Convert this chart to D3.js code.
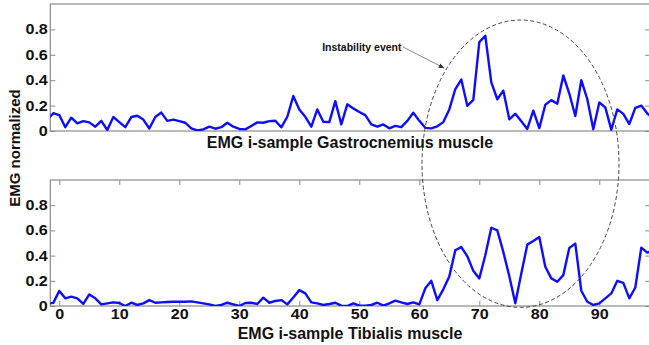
<!DOCTYPE html>
<html>
<head>
<meta charset="utf-8">
<script src="https://cdn.jsdelivr.net/npm/d3@7"></script>
<style>
  html, body { margin: 0; padding: 0; background: #fff; }
  svg { display: block; }
  text { font-family: "Liberation Sans", Arial, sans-serif; font-weight: bold; fill: #111; }
</style>
</head>
<body>
<svg id="chart" width="649" height="345"></svg>
<script>
// ---- data ----
const sampleStart = -2; // first sample index (partly clipped at the left edge)
const gastrocnemius = [
  0.09, 0.14, 0.125, 0.03, 0.105, 0.06, 0.078, 0.068, 0.034, 0.08,
  0.008, 0.11, 0.07, 0.03, 0.11, 0.12, 0.09, 0.02, 0.11, 0.145,
  0.08, 0.09, 0.078, 0.065, 0.02, 0.005, 0.013, 0.034, 0.018, 0.03,
  0.065, 0.034, 0.016, 0.013, 0.04, 0.068, 0.065, 0.078, 0.081, 0.029,
  0.112, 0.275, 0.17, 0.112, 0.034, 0.17, 0.073, 0.07, 0.235, 0.052,
  0.21, 0.178, 0.15, 0.125, 0.052, 0.034, 0.052, 0.021, 0.04, 0.03,
  0.08, 0.144, 0.08, 0.025, 0.021, 0.037, 0.07, 0.17, 0.33, 0.405,
  0.198, 0.245, 0.70, 0.75, 0.383, 0.25, 0.318, 0.092, 0.136, 0.077,
  0.016, 0.16, 0.023, 0.207, 0.243, 0.215, 0.437, 0.295, 0.118, 0.40,
  0.25, 0.013, 0.224, 0.186, 0.01, 0.17, 0.135, 0.055, 0.182, 0.20,
  0.138, 0.10
];
const tibialis = [
  0.02, 0.025, 0.12, 0.061, 0.074, 0.061, 0.016, 0.092, 0.061, 0.013,
  0.021, 0.029, 0.024, 0.0, 0.026, 0.008, 0.021, 0.047, 0.026, 0.029,
  0.032, 0.034, 0.034, 0.034, 0.037, 0.029, 0.021, 0.013, 0.0, 0.008,
  0.026, 0.013, 0.0, 0.024, 0.026, 0.016, 0.066, 0.026, 0.04, 0.047,
  0.013, 0.068, 0.126, 0.10, 0.029, 0.021, 0.008, 0.016, 0.026, 0.003,
  0.0, 0.021, 0.003, 0.003, 0.008, 0.026, 0.003, 0.021, 0.042, 0.029,
  0.016, 0.029, 0.013, 0.14, 0.20, 0.047, 0.132, 0.235, 0.442, 0.468,
  0.395, 0.279, 0.219, 0.403, 0.621, 0.60, 0.429, 0.237, 0.021, 0.258,
  0.487, 0.516, 0.547, 0.311, 0.219, 0.192, 0.245, 0.461, 0.495, 0.121,
  0.034, 0.008, 0.021, 0.061, 0.10, 0.20, 0.184, 0.061, 0.147, 0.463,
  0.424, 0.44
];
const xTicks = [0, 10, 20, 30, 40, 50, 60, 70, 80, 90];
const yTicks = [0, 0.2, 0.4, 0.6, 0.8];
const yTickLabels = ["0", "0.2", "0.4", "0.6", "0.8"];
const xLabelTop = "EMG i-sample Gastrocnemius muscle";
const xLabelBottom = "EMG i-sample Tibialis muscle";
const yLabel = "EMG normalized";
const annotationText = "Instability event";

// ---- layout ----
const svg = d3.select("#chart");
const left = 50.3, right = 650.3;
const x = d3.scaleLinear().domain([-1.5, 98.5]).range([left, right]);

const panels = [
  { id: "top", data: gastrocnemius, top: 4, bottom: 131, xticks: false, label: xLabelTop, labelY: 148 },
  { id: "bot", data: tibialis, top: 180, bottom: 306, xticks: true, label: xLabelBottom, labelY: 339 }
];

const axisColor = "#8a8a8a";
const tickLen = 5;

function styleTickText(sel) {
  sel.attr("font-size", 14).attr("fill", "#111")
    .attr("font-family", "'Liberation Sans', Arial, sans-serif").attr("font-weight", "bold")
    .each(function () {
      const w = this.getComputedTextLength();
      d3.select(this).attr("textLength", w * 1.15).attr("lengthAdjust", "spacingAndGlyphs");
    });
}

panels.forEach(p => {
  const y = d3.scaleLinear().domain([0, 1]).range([p.bottom, p.top]);
  const g = svg.append("g");

  g.append("clipPath").attr("id", "clip-" + p.id)
    .append("rect").attr("x", left).attr("y", p.top)
    .attr("width", right - left).attr("height", p.bottom - p.top);

  // box
  g.append("rect")
    .attr("x", left).attr("y", p.top)
    .attr("width", right - left).attr("height", p.bottom - p.top)
    .attr("fill", "none").attr("stroke", axisColor).attr("stroke-width", 1.2);

  // left y axis
  const yAxisL = d3.axisLeft(y).tickValues(yTicks)
    .tickFormat((d, i) => yTickLabels[i]).tickSizeInner(-tickLen).tickSizeOuter(0).tickPadding(2.5);
  const gl = g.append("g").attr("transform", `translate(${left},0)`).call(yAxisL);
  gl.select(".domain").remove();
  gl.selectAll(".tick line").attr("stroke", axisColor);
  styleTickText(gl.selectAll(".tick text"));

  // right y axis (ticks only)
  const yAxisR = d3.axisRight(y).tickValues(yTicks).tickFormat("").tickSizeInner(-tickLen).tickSizeOuter(0);
  const gr = g.append("g").attr("transform", `translate(${right},0)`).call(yAxisR);
  gr.select(".domain").remove();
  gr.selectAll(".tick line").attr("stroke", axisColor);

  if (p.xticks) {
    const xAxisB = d3.axisBottom(x).tickValues(xTicks).tickFormat(d3.format("d"))
      .tickSizeInner(-tickLen).tickSizeOuter(0).tickPadding(3);
    const gb = g.append("g").attr("transform", `translate(0,${p.bottom})`).call(xAxisB);
    gb.select(".domain").remove();
    gb.selectAll(".tick line").attr("stroke", axisColor);
    styleTickText(gb.selectAll(".tick text"));

    const xAxisT = d3.axisTop(x).tickValues(xTicks).tickFormat("").tickSizeInner(-tickLen).tickSizeOuter(0);
    const gt = g.append("g").attr("transform", `translate(0,${p.top})`).call(xAxisT);
    gt.select(".domain").remove();
    gt.selectAll(".tick line").attr("stroke", axisColor);
  }

  // series line
  const line = d3.line()
    .x((d, i) => x(sampleStart + i))
    .y(d => y(d));
  g.append("path")
    .datum(p.data)
    .attr("clip-path", `url(#clip-${p.id})`)
    .attr("d", line)
    .attr("fill", "none")
    .attr("stroke", "#0d0dff")
    .attr("stroke-width", 2.4)
    .attr("stroke-linejoin", "round");

  // x label
  g.append("text")
    .attr("x", 350).attr("y", p.labelY)
    .attr("text-anchor", "middle")
    .attr("font-size", 16)
    .text(p.label);
});

// y label
svg.append("text")
  .attr("transform", "translate(20,148) rotate(-90)")
  .attr("text-anchor", "middle")
  .attr("font-size", 15)
  .text(yLabel);

// ellipse marking the instability event
svg.append("ellipse")
  .attr("cx", 520.5).attr("cy", 163.7)
  .attr("rx", 98.5).attr("ry", 143.7)
  .attr("fill", "none")
  .attr("stroke", "#444")
  .attr("stroke-width", 1)
  .attr("stroke-dasharray", "4,2.5");

// annotation
svg.append("defs").append("marker")
  .attr("id", "arrow").attr("viewBox", "0 0 10 10")
  .attr("refX", 9).attr("refY", 5)
  .attr("markerWidth", 6).attr("markerHeight", 6)
  .attr("orient", "auto")
  .append("path").attr("d", "M0,1 L10,5 L0,9 z").attr("fill", "#333");

svg.append("line")
  .attr("x1", 403).attr("y1", 47)
  .attr("x2", 444).attr("y2", 68)
  .attr("stroke", "#8a8a8a").attr("stroke-width", 1)
  .attr("marker-end", "url(#arrow)");

svg.append("text")
  .attr("x", 401.5).attr("y", 50.5)
  .attr("text-anchor", "end")
  .attr("font-size", 10.5)
  .text(annotationText);
</script>
</body>
</html>
